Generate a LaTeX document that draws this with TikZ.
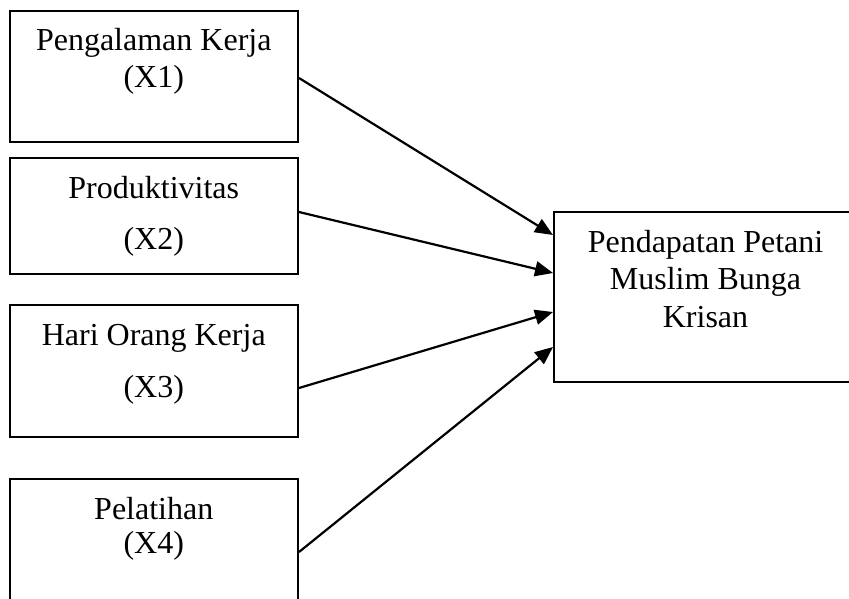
\documentclass[tikz,border=0pt]{standalone}
\usepackage{fontspec}
\setmainfont{Liberation Serif}
\usetikzlibrary{arrows.meta}
\begin{document}
\begin{tikzpicture}[x=1pt,y=-1pt,
  box/.style={draw,line width=2pt,inner sep=0pt},
  lbl/.style={anchor=base,inner sep=0pt,font=\fontsize{32}{38}\selectfont},
  conn/.style={line width=2.2pt,-{Triangle[length=18pt,width=15pt]}}]
\useasboundingbox (0,0) rectangle (849,598);
\clip (0,0) rectangle (849,598);
\node[box,minimum width=288pt,minimum height=131pt] (b1) at (154,76.5) {};
\node[box,minimum width=288pt,minimum height=116pt] (b2) at (154,216) {};
\node[box,minimum width=288pt,minimum height=132pt] (b3) at (154,371) {};
\node[box,minimum width=288pt,minimum height=141pt] (b4) at (154,549.5) {};
\node[box,minimum width=316pt,minimum height=170pt] (r) at (712,297) {};
\node[lbl] (t1a) at (153.75,50) {Pengalaman Kerja};
\node[lbl] (t1b) at (153.75,87) {(X1)};
\node[lbl] (t2a) at (153.75,198) {Produktivitas};
\node[lbl] (t2b) at (153.75,249) {(X2)};
\node[lbl] (t3a) at (153.75,345) {Hari Orang Kerja};
\node[lbl] (t3b) at (153.75,397) {(X3)};
\node[lbl] (t4a) at (153.75,519) {Pelatihan};
\node[lbl] (t4b) at (153.75,553) {(X4)};
\node[lbl] (ra) at (705.5,252) {Pendapatan Petani};
\node[lbl] (rb) at (705.5,289) {Muslim Bunga};
\node[lbl] (rc) at (705.5,327) {Krisan};
\draw[conn] (b1.east |- 0,78) -- (r.west |- 0,235);
\draw[conn] (b2.east |- 0,212) -- (r.west |- 0,273);
\draw[conn] (b3.east |- 0,388) -- (r.west |- 0,312);
\draw[conn] (b4.east |- 0,552) -- (r.west |- 0,347);
\end{tikzpicture}
\end{document}
